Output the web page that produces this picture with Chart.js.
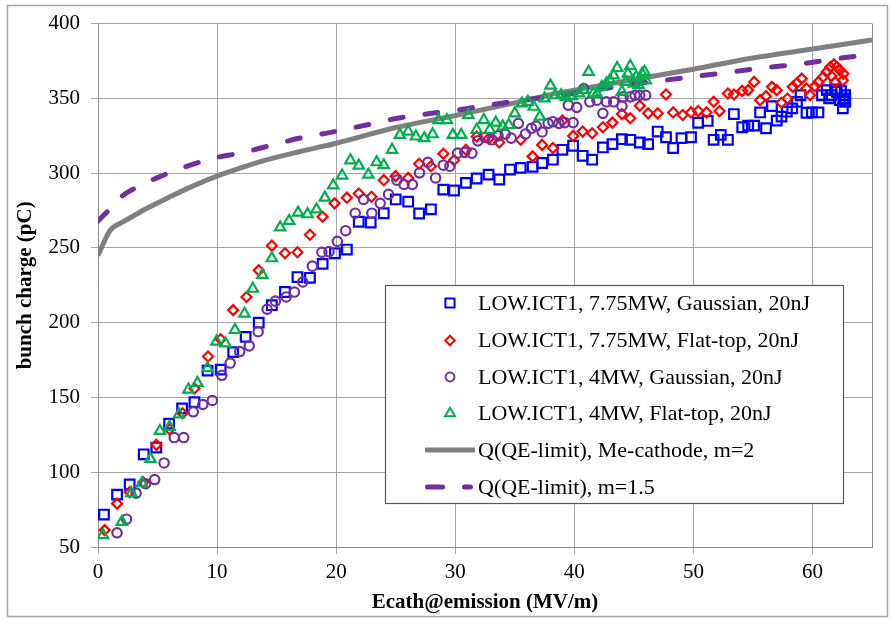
<!DOCTYPE html>
<html><head><meta charset="utf-8">
<script src="https://cdn.jsdelivr.net/npm/chart.js@4/dist/chart.umd.min.js"></script>
<style>html,body{margin:0;padding:0;background:#fff}canvas{display:block}</style>
</head><body>
<canvas id="c" width="891" height="619"></canvas>
<script>
// ---- data ----
const seriesLabels = [
  'LOW.ICT1, 7.75MW, Gaussian, 20nJ',
  'LOW.ICT1, 7.75MW, Flat-top, 20nJ',
  'LOW.ICT1, 4MW, Gaussian, 20nJ',
  'LOW.ICT1, 4MW, Flat-top, 20nJ',
  'Q(QE-limit), Me-cathode, m=2',
  'Q(QE-limit), m=1.5'
];
const xTitle = 'Ecath@emission (MV/m)';
const yTitle = 'bunch charge (pC)';

const gauss775X = [0.5,1.6,2.66,3.84,4.9,5.97,7.06,8.1,9.2,10.3,11.35,12.4,13.5,14.6,15.7,16.75,17.8,18.86,19.9,20.9,21.9,22.9,24.0,25.0,26.05,26.97,27.96,29.0,29.9,30.9,31.8,32.8,33.7,34.6,35.5,36.5,37.3,38.2,39.0,39.9,40.7,41.5,42.4,43.2,44.0,44.7,45.5,46.2,47.0,47.7,48.3,49.0,49.8,50.4,51.2,51.7,52.3,52.9,53.4,54.1,54.6,55.1,55.6,56.1,56.6,57.0,57.4,57.85,58.3,58.7,59.0,59.5,59.95,60.5,60.8,61.2,61.4,61.6,61.9,62.05,62.3,62.4,62.55,62.6,62.75,62.75];
const gauss775Y = [71.7,85,91.8,112,116.5,132.5,142.7,146.9,168,168.6,180.3,190.5,200,211.7,220.5,230.5,230,239.3,246.4,248.9,267.5,267,273.2,282.4,280.9,273,275.8,289,288.4,293.5,296.4,299,295.7,302.4,303.5,304.2,306.8,309,315.6,318.3,311.6,309,317.2,319.4,322.7,322.3,320.5,319.4,327.8,324,316.8,323.4,324,333.7,334.9,322.3,325.6,322.3,339.5,330.7,331.8,331.8,340.6,330,344.8,335.1,337.8,341.1,343.3,347.7,352.1,340.4,340.6,340.6,352.1,355.5,350,352.1,356,354.4,348.8,355,343.3,350,352.1,347.7];

const flat775X = [0.56,1.6,2.66,3.8,4.9,6.0,7.1,8.1,9.24,10.3,11.35,12.47,13.5,14.6,15.7,16.75,17.8,18.86,19.87,20.9,21.9,22.97,24.0,25.0,26.05,26.97,27.96,29.0,29.9,30.9,31.8,32.8,33.7,35.5,36.5,37.3,38.2,39.0,39.9,40.7,41.5,42.4,43.2,44.0,44.7,45.5,46.2,47.0,47.7,48.3,49.1,49.8,50.4,51.1,51.7,52.2,52.9,53.4,54.1,54.6,55.1,55.6,56.1,56.6,57.0,57.4,57.9,58.35,58.7,59.1,59.5,59.8,60.2,60.5,60.9,61.2,61.5,61.6,61.8,61.9,62.05,62.3,62.55,62.6];
const flat775Y = [61.3,79,86.7,93.3,118.3,128.7,139.4,156,177.4,188.9,208.4,217.2,235,251.5,246.4,247.1,258.8,270.8,279.8,283.6,286.4,284.2,295.3,298,296.8,306.3,304.6,313,308.6,315.6,324.5,323,320.5,322.3,311.2,318.9,316.8,335.1,324.9,327.8,326.7,330.7,333.8,339.5,336.7,345.1,340,340,352.6,340.6,338.9,340.6,341.5,340.6,347.7,341.5,353.3,352.6,355,355.5,361,348.8,351.5,357.7,355.5,347.1,349.9,357.7,360.3,363.2,356.6,352.1,358.1,361,364.3,367.7,371,364.8,372.7,361,371,368.8,362.1,366.5];

const gauss4X = [1.6,2.4,3.2,4.0,4.76,5.55,6.4,7.2,8.0,8.8,9.6,10.4,11.1,11.9,12.7,13.45,14.2,14.9,15.8,16.5,17.2,18.0,18.8,19.4,20.1,20.8,21.6,22.3,23.0,23.7,24.4,25.1,25.7,26.4,27.0,27.7,28.35,29.0,29.55,30.2,30.8,31.4,31.9,32.5,33.1,33.6,34.2,34.7,35.3,35.9,36.4,36.8,37.3,37.8,38.2,38.7,39.2,39.5,39.9,40.2,40.8,41.3,41.9,42.4,42.7,43.3,44.0,44.1,44.7,45.1,45.5,46.0];
const gauss4Y = [59.5,68.6,86,92.3,95.1,106.2,123.2,123.2,140.4,145.3,148,164.8,173,180.7,184.5,194,209,214.4,217.2,220.5,227.2,237.8,247.1,247.5,254.4,261.5,273.2,282.4,273.2,279.8,285.8,295.3,292.4,292.4,300.2,307.3,296.8,305.3,304.6,313.4,313.9,313.4,321.6,323.8,322.3,324.9,326,323.4,333.3,326.2,330,331.5,327.5,333.3,334.4,333.3,333.8,345.5,333.8,344,356.6,347.7,348.8,340,347.7,347.7,344.8,351,351,352.1,352.1,352.1];

const flat4X = [0.42,2.0,2.8,3.7,4.4,5.2,6.0,6.8,7.6,8.35,9.2,9.95,10.7,11.5,12.3,13.0,13.8,14.6,15.3,16.05,16.8,17.6,18.35,19.05,19.75,20.5,21.2,21.9,22.7,23.4,24.0,24.7,25.35,26.05,26.7,27.4,28.1,28.6,29.3,29.8,30.5,31.1,31.8,32.4,32.9,33.4,34.0,34.5,35.0,35.6,36.1,36.6,37.1,37.5,38.0,38.4,38.9,39.3,39.8,40.4,40.8,41.2,41.6,41.9,42.3,42.7,43.0,43.3,43.6,44.0,44.3,44.5,44.7,45.0,45.2,45.4,45.7,45.9,46.0];
const flat4Y = [58,66.8,86,92.7,108.9,127.6,130.3,138.7,155.3,159.7,169.6,187.4,186.2,195.1,206,222.7,232,243.1,263.7,268.1,273.6,272.5,275.8,283.6,291.8,298.4,308.6,305,299,307.3,305.3,315.6,325.6,327.8,324.5,323.4,326,335.5,335.5,325.6,325.6,338.9,329,335.5,329,333.8,331.2,332.2,340,346.6,347.7,344.4,337.8,350,358.5,352.1,352.1,351,351.5,353.3,355.5,367.7,353.3,352.8,357.7,359.9,362.1,365.4,370.3,354.4,361,366.5,371.6,359.9,364.3,358.8,366.5,367.7,362.1];

const limitM2X = [0,1,2,3,4,5,6,8,10,12,14,17,20,25,30,35,38,40,46,50,55,60,65];
const limitM2Y = [245,261.5,267,271.5,276,280,284,291.5,298,303.5,308.5,314.5,320,330.5,338.5,347,352.5,355.5,364,369.5,377,383,389];

const limitM15X = [0,0.5,1,2,3,5,8,10,12,14,17,20,23,25,28,30,32,35,40,45,50,53,56,59,62,65];
const limitM15Y = [268,272,276,284.5,289.5,297,306,310.5,313.5,317.5,323.5,328,333,336.5,340,342,344.5,348,353.5,359.5,364.5,367.5,370.5,373,376.5,379.5];

const xTickStep = 10, yTickStep = 50;
const xRange = [0, 65], yRange = [50, 400];

// ---- build ----
const pts = (xs, ys) => xs.map((x, i) => ({x, y: ys[i]}));
const FONT = '"Liberation Serif", "Times New Roman", serif';
const clear = 'rgba(0,0,0,0)';

const datasets = [
  {label: seriesLabels[0], data: pts(gauss775X, gauss775Y), pointStyle: 'rect', pointRadius: 6.8, borderColor: '#0000ff', backgroundColor: clear, pointBorderWidth: 2.2, order: 4},
  {label: seriesLabels[1], data: pts(flat775X, flat775Y), pointStyle: 'rectRot', pointRadius: 5, borderColor: '#ff0000', backgroundColor: clear, pointBorderWidth: 2.2, order: 3},
  {label: seriesLabels[2], data: pts(gauss4X, gauss4Y), pointStyle: 'circle', pointRadius: 4.7, borderColor: '#7030a0', backgroundColor: clear, pointBorderWidth: 2.2, order: 2},
  {label: seriesLabels[3], data: pts(flat4X, flat4Y), pointStyle: 'triangle', pointRadius: 6, borderColor: '#00b050', backgroundColor: clear, pointBorderWidth: 2.2, order: 1},
  {label: seriesLabels[4], data: pts(limitM2X, limitM2Y), showLine: true, pointRadius: 0, borderColor: '#808080', borderWidth: 5, cubicInterpolationMode: 'monotone', order: 11},
  {label: seriesLabels[5], data: pts(limitM15X, limitM15Y), showLine: true, pointRadius: 0, borderColor: '#7030a0', borderWidth: 5, borderDash: [13, 22], borderCapStyle: 'round', cubicInterpolationMode: 'monotone', order: 10}
];

function marker(ctx, style, x, y, r) {
  ctx.beginPath();
  if (style === 'rect') { const s = Math.SQRT1_2 * r; ctx.rect(x - s, y - s, 2 * s, 2 * s); }
  else if (style === 'rectRot') { ctx.moveTo(x - r, y); ctx.lineTo(x, y - r); ctx.lineTo(x + r, y); ctx.lineTo(x, y + r); ctx.closePath(); }
  else if (style === 'circle') { ctx.arc(x, y, r, 0, Math.PI * 2); }
  else if (style === 'triangle') {
    let a = 0; ctx.moveTo(x + Math.sin(a) * r, y - Math.cos(a) * r);
    a += 2 * Math.PI / 3; ctx.lineTo(x + Math.sin(a) * r, y - Math.cos(a) * r);
    a += 2 * Math.PI / 3; ctx.lineTo(x + Math.sin(a) * r, y - Math.cos(a) * r);
    ctx.closePath();
  }
  ctx.stroke();
}

const framePlugin = {
  id: 'frame',
  afterDraw(chart) {
    const ctx = chart.ctx, ca = chart.chartArea;
    ctx.save();
    // plot right edge
    ctx.strokeStyle = '#8c8c8c'; ctx.lineWidth = 1;
    ctx.beginPath(); ctx.moveTo(Math.round(ca.right) + 0.5, ca.top); ctx.lineTo(Math.round(ca.right) + 0.5, ca.bottom); ctx.stroke();
    // outer frame
    ctx.strokeStyle = '#a6a6a6'; ctx.lineWidth = 1.5;
    ctx.strokeRect(7.5, 5.5, 880, 611);
    // legend
    const L = {x: 385.5, y: 285.5, w: 458, h: 218};
    ctx.fillStyle = '#fff'; ctx.fillRect(L.x, L.y, L.w, L.h);
    ctx.strokeStyle = '#595959'; ctx.lineWidth = 1.2; ctx.strokeRect(L.x, L.y, L.w, L.h);
    const rows = [303, 340.5, 377, 413.5, 450, 487];
    ctx.font = '22px ' + FONT; ctx.fillStyle = '#000'; ctx.textBaseline = 'middle'; ctx.textAlign = 'left';
    chart.data.datasets.forEach((ds, i) => {
      const y = rows[i];
      ctx.strokeStyle = ds.borderColor;
      if (ds.showLine) {
        ctx.lineWidth = ds.borderWidth;
        ctx.beginPath();
        if (ds.borderDash) { ctx.lineCap = 'round'; ctx.setLineDash([15, 22]); ctx.moveTo(427.5, y); ctx.lineTo(470.5, y); }
        else { ctx.lineCap = 'butt'; ctx.moveTo(425, y); ctx.lineTo(475, y); }
        ctx.stroke();
        ctx.setLineDash([]); ctx.lineCap = 'butt';
      } else {
        ctx.lineWidth = 2;
        marker(ctx, ds.pointStyle, 450, y, ds.pointRadius * 0.95);
      }
      ctx.fillText(ds.label, 478, y + 1);
    });
    ctx.restore();
  }
};

new Chart(document.getElementById('c'), {
  type: 'scatter',
  data: {datasets},
  plugins: [framePlugin],
  options: {
    responsive: false,
    animation: false,
    events: [],
    layout: {padding: {top: 19, right: 19, left: 0, bottom: 0}},
    plugins: {legend: {display: false}, tooltip: {enabled: false}},
    scales: {
      x: {
        type: 'linear', min: xRange[0], max: xRange[1],
        ticks: {stepSize: xTickStep, includeBounds: false, color: '#000', font: {family: FONT, size: 21}, padding: 6, maxRotation: 0},
        grid: {color: '#a6a6a6', lineWidth: 1, tickLength: 7},
        border: {color: '#8c8c8c', width: 1},
        title: {display: true, text: xTitle, color: '#000', font: {family: FONT, size: 21, weight: 'bold'}, padding: {top: 0, bottom: 4}},
        afterFit(s) { s.height = 72; }
      },
      y: {
        type: 'linear', min: yRange[0], max: yRange[1],
        ticks: {stepSize: yTickStep, color: '#000', font: {family: FONT, size: 21}, padding: 11},
        grid: {color: '#a6a6a6', lineWidth: 1, tickLength: 7},
        border: {color: '#8c8c8c', width: 1},
        title: {display: true, text: yTitle, color: '#000', font: {family: FONT, size: 21, weight: 'bold'}, padding: {top: 13, bottom: 0}},
        afterFit(s) { s.width = 98; }
      }
    }
  }
});
</script>
</body></html>
